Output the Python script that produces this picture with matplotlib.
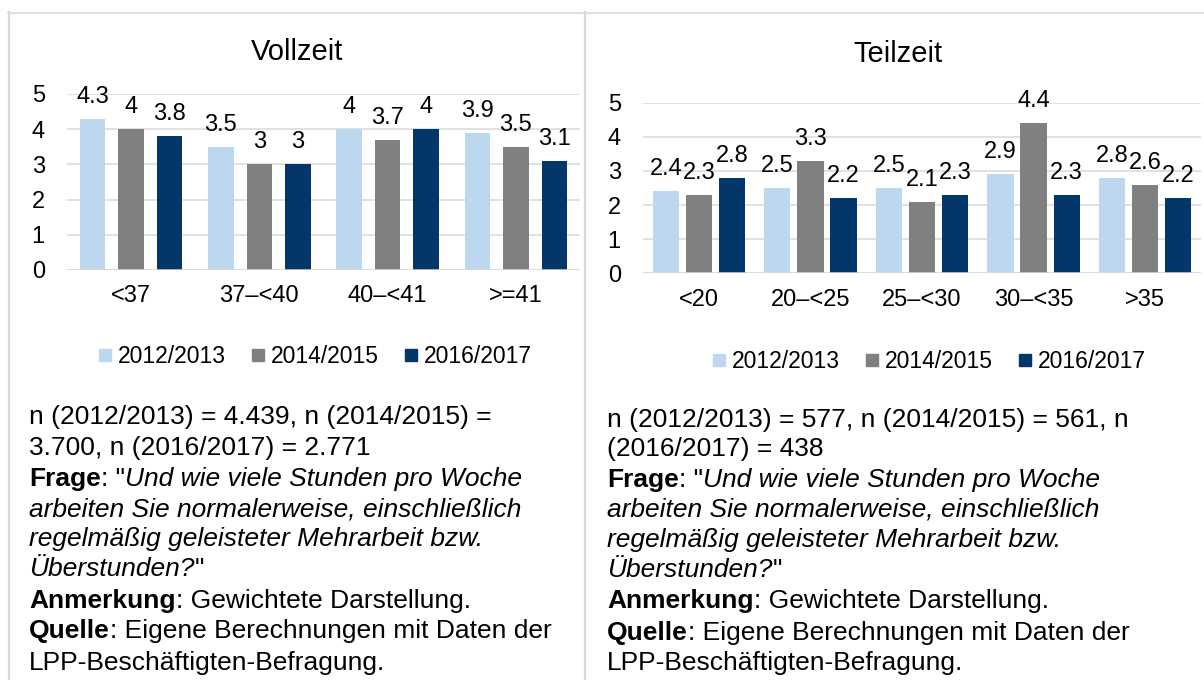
import matplotlib
matplotlib.use("Agg")
import matplotlib.pyplot as plt
from matplotlib.lines import Line2D
import numpy as np

plt.rcParams['font.family'] = ['Liberation Sans', 'DejaVu Sans']

# ---- data -------------------------------------------------------------
series = ["2012/2013", "2014/2015", "2016/2017"]
colors = ["#BDD7EE", "#808080", "#043669"]

vz_categories = ["<37", "37\u2013<40", "40\u2013<41", ">=41"]
vz_2012 = [4.3, 3.5, 4.0, 3.9]
vz_2014 = [4.0, 3.0, 3.7, 3.5]
vz_2016 = [3.8, 3.0, 4.0, 3.1]

tz_categories = ["<20", "20\u2013<25", "25\u2013<30", "30\u2013<35", ">35"]
tz_2012 = [2.4, 2.5, 2.5, 2.9, 2.8]
tz_2014 = [2.3, 3.3, 2.1, 4.4, 2.6]
tz_2016 = [2.8, 2.2, 2.3, 2.3, 2.2]

y_ticks = [0, 1, 2, 3, 4, 5]

vz_notes = [
    [("n (2012/2013) = 4.439, n (2014/2015) =", "r")],
    [("3.700, n (2016/2017) = 2.771", "r")],
    [("Frage", "b"), (': "', "r"), ("Und wie viele Stunden pro Woche", "i")],
    [("arbeiten Sie normalerweise, einschließlich", "i")],
    [("regelmäßig geleisteter Mehrarbeit bzw.", "i")],
    [("Überstunden?", "i"), ('"', "r")],
    [("Anmerkung", "b"), (": Gewichtete Darstellung.", "r")],
    [("Quelle", "b"), (": Eigene Berechnungen mit Daten der", "r")],
    [("LPP-Beschäftigten-Befragung.", "r")],
]
tz_notes = [
    [("n (2012/2013) = 577, n (2014/2015) = 561, n", "r")],
    [("(2016/2017) = 438", "r")],
] + vz_notes[2:]

# ---- figure -----------------------------------------------------------
W, H = 1204, 680
fig = plt.figure(figsize=(W / 100, H / 100), dpi=100)

# overlay in pixel coordinates for frame lines and notes
bg = fig.add_axes([0, 0, 1, 1], zorder=-1)
bg.set_xlim(0, W)
bg.set_ylim(H, 0)
bg.axis("off")

frame_c = "#D9D9D9"
bg.add_line(Line2D([8, W], [12.5, 12.5], color=frame_c, lw=1.2))
bg.add_line(Line2D([8.5, 8.5], [12, H], color=frame_c, lw=1.6))
bg.add_line(Line2D([585, 585], [12, H], color=frame_c, lw=1.6))

LABEL_FS = 17
BODY_FS = 19


def px_rect(x0, x1, y_top, y_bot):
    return [x0 / W, 1 - y_bot / H, (x1 - x0) / W, (y_bot - y_top) / H]


def bar_panel(rect, cats, vals, width, offset, title, title_xy, legend_xy):
    ax = fig.add_axes(rect)
    x = np.arange(len(cats))
    handles = []
    for i, (v, c) in enumerate(zip(vals, colors)):
        pos = x + (i - 1) * offset
        ax.bar(pos, v, width=width, color=c, zorder=3)
        for xp, yv in zip(pos, v):
            ax.annotate(f"{yv:g}", xy=(xp, yv), xytext=(0, 11.5),
                        textcoords="offset points", ha="center",
                        va="baseline", fontsize=LABEL_FS, color="black")
        handles.append(Line2D([], [], marker="s", linestyle="", markersize=8,
                              color=c, label=series[i]))
    ax.set_xlim(-0.5, len(cats) - 0.5)
    ax.set_ylim(0, 5)
    ax.set_yticks(y_ticks)
    ax.set_xticks(x)
    ax.set_xticklabels(cats)
    ax.tick_params(axis="both", length=0, labelsize=LABEL_FS, colors="black")
    ax.tick_params(axis="y", pad=16)
    ax.tick_params(axis="x", pad=11)
    ax.grid(axis="y", color="#D9D9D9", lw=1.1, zorder=0)
    for s in ax.spines.values():
        s.set_visible(False)
    ax.axhline(0, color="#D9D9D9", lw=1.1, zorder=4)
    ax.set_facecolor("none")

    bg.text(title_xy[0], title_xy[1], title, fontsize=21, ha="center",
            va="baseline", color="black")
    fig.legend(handles=handles, loc="center",
               bbox_to_anchor=(legend_xy[0] / W, 1 - legend_xy[1] / H),
               ncol=3, frameon=False, fontsize=16.5, handlelength=0.6,
               handletextpad=0.25, columnspacing=1.1, borderpad=0)
    return ax


bar_panel(px_rect(67, 580, 94, 270), vz_categories,
          [vz_2012, vz_2014, vz_2016], 0.2, 0.3,
          "Vollzeit", (297, 59.5), (315, 356.5))
bar_panel(px_rect(643, 1201, 102.7, 273.3), tz_categories,
          [tz_2012, tz_2014, tz_2016], 0.235, 0.296,
          "Teilzeit", (898, 61.5), (929, 362))

styles = {"r": dict(), "b": dict(fontweight="bold"), "i": dict(fontstyle="italic")}


def note_block(x0, baselines, lines):
    for yb, pieces in zip(baselines, lines):
        prev = None
        for txt, st in pieces:
            if prev is None:
                prev = bg.text(x0, yb, txt, fontsize=BODY_FS, ha="left",
                               va="baseline", color="black", **styles[st])
            else:
                prev = bg.annotate(txt, xy=(1, 0), xycoords=prev, ha="left",
                                   va="bottom", fontsize=BODY_FS,
                                   color="black", **styles[st])


note_block(29, [424, 455, 486, 516, 546, 576, 608, 638, 670], vz_notes)
note_block(607, [427, 456, 487, 517, 547, 577, 608, 640, 670], tz_notes)

fig.savefig("out.png", dpi=100, facecolor="white")
